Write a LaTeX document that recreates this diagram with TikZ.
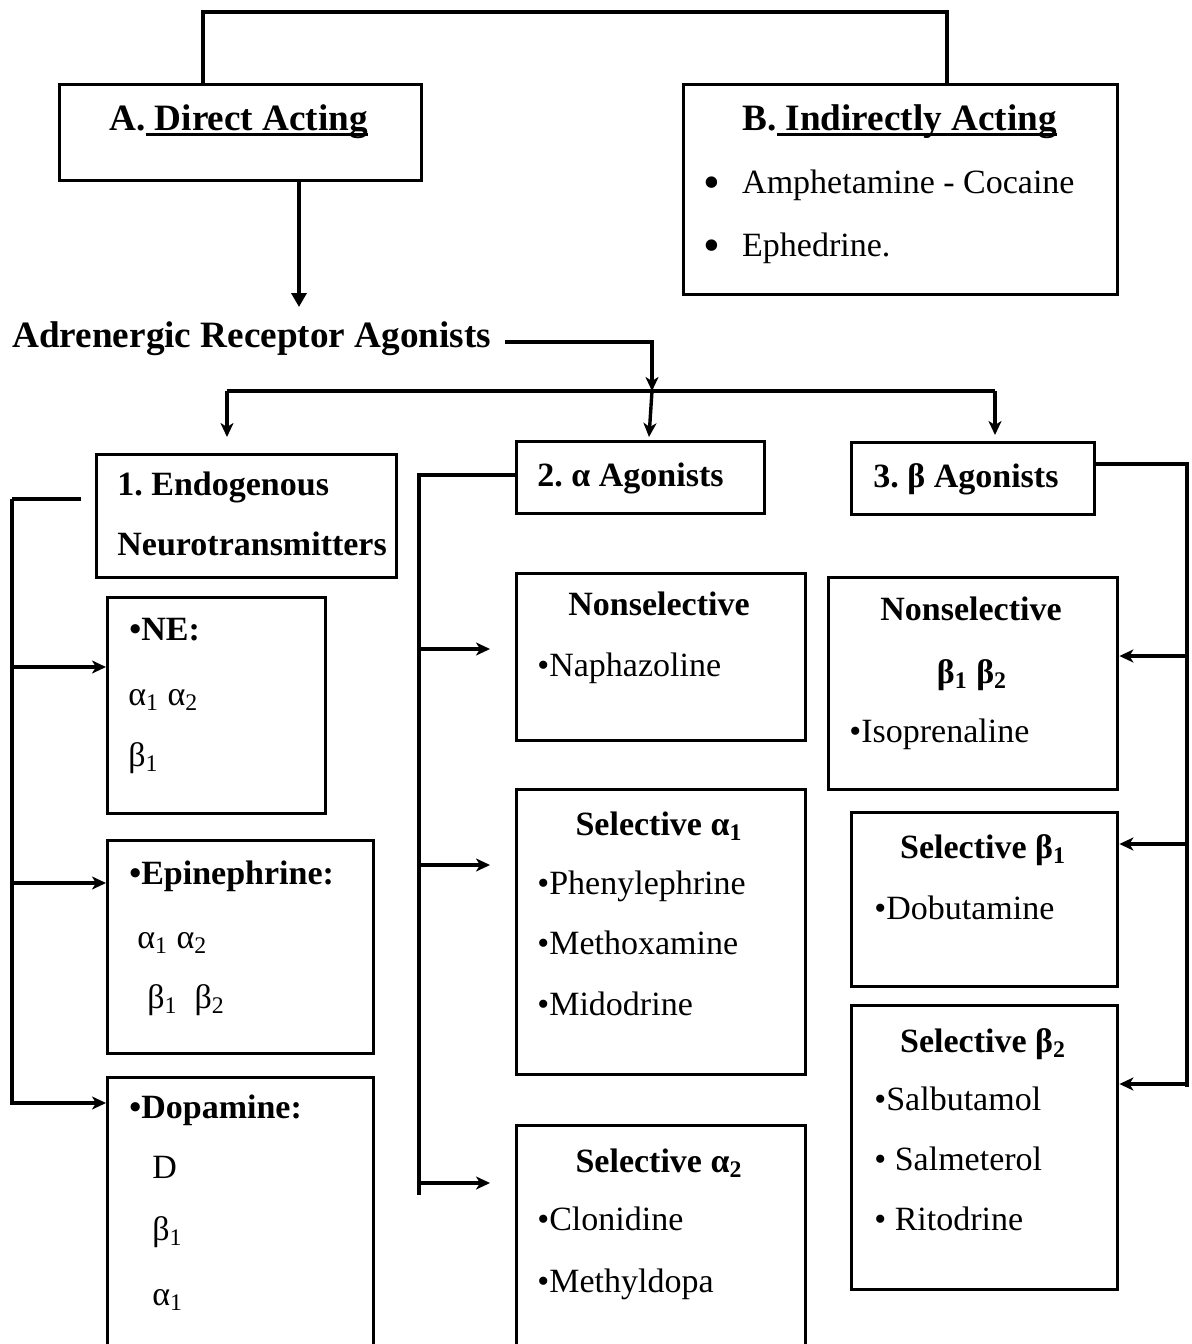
\documentclass[tikz,border=0pt]{standalone}
\usepackage{fontspec}
\setmainfont{Liberation Serif}
\usetikzlibrary{arrows.meta}
\usetikzlibrary{calc}

\newcommand{\sbs}[1]{\textsubscript{#1}}
\newcommand{\uln}[1]{\setbox0\hbox{#1}\rlap{\rule[-3pt]{\wd0}{1.6pt}}\box0}
\newcommand{\bigdot}{\raisebox{-2.5pt}{\fontsize{24}{24}\selectfont •}}
\frenchspacing

\tikzset{
  box/.style={draw, line width=1.7pt, inner sep=0pt, anchor=north west},
  txt/.style={inner sep=0pt, anchor=base west, font=\fontsize{17}{20}\selectfont},
  btxt/.style={txt, font=\fontsize{17}{20}\selectfont\bfseries},
  ctxt/.style={btxt, anchor=base},
  head/.style={inner sep=0pt, anchor=base west, font=\fontsize{18.6}{22}\selectfont\bfseries},
  link/.style={line width=1.7pt},
  arr/.style={link, -{Stealth[length=7pt,width=6.5pt,inset=2pt]}},
  bigarr/.style={link, -{Triangle[length=7pt,width=7.5pt]}},
}

\begin{document}
\begin{tikzpicture}[x=0.5pt,y=-0.5pt]
    \useasboundingbox (0,0) rectangle (1192,1344);
    \clip (0,0) rectangle (1192,1344);

    % A and B
    \node[box, minimum width=181pt, minimum height=48pt] (direct) at (58,83) {};
    \node[head] (directT) at (109,130) {A.\uln{\ Direct Acting}};
    \node[box, minimum width=217pt, minimum height=105pt] (indirect) at (682,83) {};
    \node[head] (indirectT) at (742,130) {B.\uln{\ Indirectly Acting}};
    \node[txt] (amph) at (703,193) {\bigdot\hspace{11pt}Amphetamine - Cocaine};
    \node[txt] (ephe) at (703,256) {\bigdot\hspace{11pt}Ephedrine.};

    \coordinate (tl) at (203,12);
    \coordinate (tr) at (947,12);
    \draw[link] (tl |- direct.north) -- (tl) -- (tr) -- (tr |- indirect.north);

    % title
    \node[head] (agon) at (12,347) {Adrenergic Receptor Agonists};
    \coordinate (da) at (299,307);
    \draw[bigarr] (da |- direct.south) -- (da);

    % bus to the three groups
    \coordinate (j1) at (652,342);
    \coordinate (busl) at (227,391);
    \coordinate (busr) at (995,391);
    \draw[arr] ($(agon.base east)+(14,-5)$) -- (j1) -- (j1 |- busl);
    \draw[link] (busl) -- (busr);

    % groups
    \node[box, minimum width=150pt, minimum height=61.5pt] (endo) at (95,453) {};
    \node[btxt] (endoA) at (117,495) {1. Endogenous};
    \node[btxt] (endoB) at (117,555) {Neurotransmitters};
    \node[box, minimum width=124pt, minimum height=36pt] (alpha) at (515,440) {};
    \node[btxt] (alphaT) at (537,486) {2. α Agonists};
    \node[box, minimum width=121.5pt, minimum height=36pt] (beta) at (850,441) {};
    \node[btxt] (betaT) at (873,487) {3. β Agonists};

    \draw[arr, shorten >=8pt] (busl) -- (busl |- endo.north);
    \draw[arr] (j1 |- busl) -- ($(j1 |- alpha.north)+(-3,-3)$);
    \draw[arr, shorten >=3pt] (busr) -- (busr |- beta.north);

    % endogenous
    \node[box, minimum width=109pt, minimum height=108pt] (ne) at (106,596) {};
    \node[btxt] (neA) at (129,640) {•NE:};
    \node[txt] (neB) at (128,705) {α\sbs{1} α\sbs{2}};
    \node[txt] (neC) at (128,766) {β\sbs{1}};
    \node[box, minimum width=133pt, minimum height=106.5pt] (epi) at (106,839) {};
    \node[btxt] (epiA) at (129,884) {•Epinephrine:};
    \node[txt] (epiB) at (137,948) {α\sbs{1} α\sbs{2}};
    \node[txt] (epiC) at (147,1008) {β\sbs{1}\ \ β\sbs{2}};
    \node[box, minimum width=133pt, minimum height=140pt] (dopa) at (106,1076) {};
    \node[btxt] (dopaA) at (129,1118) {•Dopamine:};
    \node[txt] (dopaB) at (152,1178) {D};
    \node[txt] (dopaC) at (152,1240) {β\sbs{1}};
    \node[txt] (dopaD) at (152,1305) {α\sbs{1}};

    \coordinate (ls) at (12,499);
    \draw[link] ($(endo.west |- ls)+(-14,0)$) -- (ls);
    \draw[arr] (ls) -- (12,1103) -- (dopa.west |- 12,1103);
    \draw[arr] (12,667) -- (ne.west |- 12,667);
    \draw[arr] (12,883) -- (epi.west |- 12,883);

    % alpha agonists
    \node[box, minimum width=144.5pt, minimum height=83.5pt] (anon) at (515,572) {};
    \node[ctxt] (anonT) at (659,615) {Nonselective};
    \node[txt] (anonA) at (537,676) {•Naphazoline};
    \node[box, minimum width=144.5pt, minimum height=142.5pt] (aone) at (515,788) {};
    \node[ctxt] (aoneT) at (659,835) {Selective α\sbs{1}};
    \node[txt] (aoneA) at (537,894) {•Phenylephrine};
    \node[txt] (aoneB) at (537,954) {•Methoxamine};
    \node[txt] (aoneC) at (537,1015) {•Midodrine};
    \node[box, minimum width=144.5pt, minimum height=115pt] (atwo) at (515,1124) {};
    \node[ctxt] (atwoT) at (659,1172) {Selective α\sbs{2}};
    \node[txt] (atwoA) at (537,1230) {•Clonidine};
    \node[txt] (atwoB) at (537,1292) {•Methyldopa};

    \coordinate (as) at (419,475);
    \draw[link] (alpha.west |- as) -- (as) -- (419,1195);
    \foreach \y/\n in {649/anon, 865/aone, 1183/atwo}
        \draw[arr, shorten >=12.5pt] (419,\y) -- (\n.west |- 419,\y);

    % beta agonists
    \node[box, minimum width=144.5pt, minimum height=106pt] (bnon) at (827,576) {};
    \node[ctxt] (bnonT) at (971,620) {Nonselective};
    \node[ctxt] (bnonA) at (972,683) {β\sbs{1} β\sbs{2}};
    \node[txt] (bnonB) at (849,742) {•Isoprenaline};
    \node[box, minimum width=133pt, minimum height=87pt] (bone) at (850,811) {};
    \node[ctxt] (boneT) at (983,858) {Selective β\sbs{1}};
    \node[txt] (boneA) at (874,919) {•Dobutamine};
    \node[box, minimum width=133pt, minimum height=142pt] (btwo) at (850,1004) {};
    \node[ctxt] (btwoT) at (983,1052) {Selective β\sbs{2}};
    \node[txt] (btwoA) at (874,1110) {•Salbutamol};
    \node[txt] (btwoB) at (874,1170) {• Salmeterol};
    \node[txt] (btwoC) at (874,1230) {• Ritodrine};

    \coordinate (bs) at (1187,464);
    \draw[link] (beta.east |- bs) -- (bs) -- (1187,1087);
    \foreach \y/\n in {656/bnon, 844/bone, 1084/btwo}
        \draw[arr] (1187,\y) -- (\n.east |- 1187,\y);
\end{tikzpicture}
\end{document}
